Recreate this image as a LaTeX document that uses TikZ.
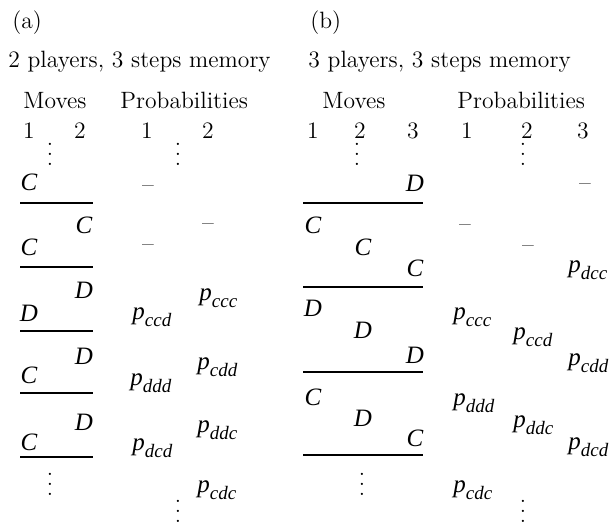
\documentclass[tikz,border=0pt]{standalone}
\usepackage{fontspec}
\newfontfamily\tmfont{Liberation Serif}
\newcommand\mv[1]{{\fontsize{12.5}{14}\tmfont\itshape #1}}
\newcommand\pr[1]{{\fontsize{12.5}{14}\tmfont\itshape p\raisebox{-3.5pt}{\fontsize{9.5}{10}\selectfont #1}}}
\newcommand\dsh{{\fontsize{12}{14}\selectfont --}}
\newcommand\vdt{\vbox{\baselineskip5pt\lineskiplimit0pt\hbox{.}\hbox{.}\hbox{.}}}
\tikzset{
  lbl/.style={inner sep=0pt, font=\fontsize{11.8}{14}\selectfont},
  mvn/.style={inner sep=0pt},
  dshn/.style={inner sep=0pt, anchor=base},
  prn/.style={inner sep=0pt, anchor=west},
  sep/.style={line width=0.7pt},
  dts/.style={inner sep=0pt, font=\fontsize{11.5}{14}\selectfont},
}
\begin{document}
\begin{tikzpicture}[x=0.5pt,y=-0.5pt]
\useasboundingbox (0,0) rectangle (613,525);
% ---------- panel (a)
\node[lbl,anchor=base west] (ta) at (12,28) {(a)};
\node[lbl,anchor=base west] (sa) at (8,67) {2 players, 3 steps memory};
\node[lbl,anchor=base west] (ma) at (23,108) {Moves};
\node[lbl,anchor=base west] (pa) at (120,108) {Probabilities};
\node[lbl,anchor=base] (na1) at (29,138) {1};
\node[lbl,anchor=base] (na2) at (80,138) {2};
\node[lbl,anchor=base] (qa1) at (147,138) {1};
\node[lbl,anchor=base] (qa2) at (208,138) {2};
\node[dts] (va1) at (50,154) {\vdt};
\node[dts] (va2) at (178,154) {\vdt};
% moves
\node[mvn] (a1) at (29,182) {\mv{C}};
\node[mvn] (a2) at (84,225) {\mv{C}};
\node[mvn] (a3) at (29,247) {\mv{C}};
\node[mvn] (a4) at (84,290) {\mv{D}};
\node[mvn] (a5) at (29,313) {\mv{D}};
\node[mvn] (a6) at (84,356) {\mv{D}};
\node[mvn] (a7) at (29,375) {\mv{C}};
\node[mvn] (a8) at (84,422) {\mv{D}};
\node[mvn] (a9) at (29,442) {\mv{C}};
\foreach \yy/\nm in {203/la1,267/la2,331/la3,393/la4,457/la5}{
  \coordinate (\nm s) at (20,\yy); \coordinate (\nm e) at (93,\yy);
  \draw[sep] (\nm s) -- (\nm e);
}
% probabilities
\node[dshn] (b1) at (148,192) {\dsh};
\node[dshn] (b2) at (148,251) {\dsh};
\node[prn] (b3) at (132,317) {\pr{ccd}};
\node[prn] (b4) at (130,383) {\pr{ddd}};
\node[prn] (b5) at (132,448) {\pr{dcd}};
\node[dshn] (c1) at (208,230) {\dsh};
\node[prn] (c2) at (199,298) {\pr{ccc}};
\node[prn] (c3) at (197,367) {\pr{cdd}};
\node[prn] (c4) at (197,430) {\pr{ddc}};
\node[prn] (c5) at (197,490) {\pr{cdc}};
\node[dts] (va3) at (50,484) {\vdt};
\node[dts] (va4) at (178,511) {\vdt};
% ---------- panel (b)
\node[lbl,anchor=base west] (tb) at (310,28) {(b)};
\node[lbl,anchor=base west] (sb) at (308,67) {3 players, 3 steps memory};
\node[lbl,anchor=base west] (mb) at (322,108) {Moves};
\node[lbl,anchor=base west] (pb) at (457,108) {Probabilities};
\node[lbl,anchor=base] (nb1) at (313,138) {1};
\node[lbl,anchor=base] (nb2) at (360,138) {2};
\node[lbl,anchor=base] (nb3) at (413,138) {3};
\node[lbl,anchor=base] (qb1) at (467,138) {1};
\node[lbl,anchor=base] (qb2) at (527,138) {2};
\node[lbl,anchor=base] (qb3) at (583,138) {3};
\node[dts] (vb1) at (357,154) {\vdt};
\node[dts] (vb2) at (523,154) {\vdt};
% moves
\node[mvn] (d1) at (415,183) {\mv{D}};
\node[mvn] (d2) at (313,225) {\mv{C}};
\node[mvn] (d3) at (363,247) {\mv{C}};
\node[mvn] (d4) at (415,268) {\mv{C}};
\node[mvn] (d5) at (313,308) {\mv{D}};
\node[mvn] (d6) at (363,330) {\mv{D}};
\node[mvn] (d7) at (415,355) {\mv{D}};
\node[mvn] (d8) at (313,397) {\mv{C}};
\node[mvn] (d9) at (363,418) {\mv{D}};
\node[mvn] (d10) at (415,438) {\mv{C}};
\foreach \yy/\nm in {203/lb1,287/lb2,372/lb3,455/lb4}{
  \coordinate (\nm s) at (303,\yy); \coordinate (\nm e) at (423,\yy);
  \draw[sep] (\nm s) -- (\nm e);
}
% probabilities
\node[dshn] (e1) at (585,190) {\dsh};
\node[dshn] (e2) at (465,231) {\dsh};
\node[dshn] (e3) at (528,252) {\dsh};
\node[prn] (e4) at (568,270) {\pr{dcc}};
\node[prn] (e5) at (453,317) {\pr{ccc}};
\node[prn] (e6) at (513,337) {\pr{ccd}};
\node[prn] (e7) at (568,363) {\pr{cdd}};
\node[prn] (e8) at (453,403) {\pr{ddd}};
\node[prn] (e9) at (513,425) {\pr{ddc}};
\node[prn] (e10) at (568,447) {\pr{dcd}};
\node[prn] (e11) at (453,490) {\pr{cdc}};
\node[dts] (vb3) at (362,484) {\vdt};
\node[dts] (vb4) at (523,511) {\vdt};
\end{tikzpicture}
\end{document}
